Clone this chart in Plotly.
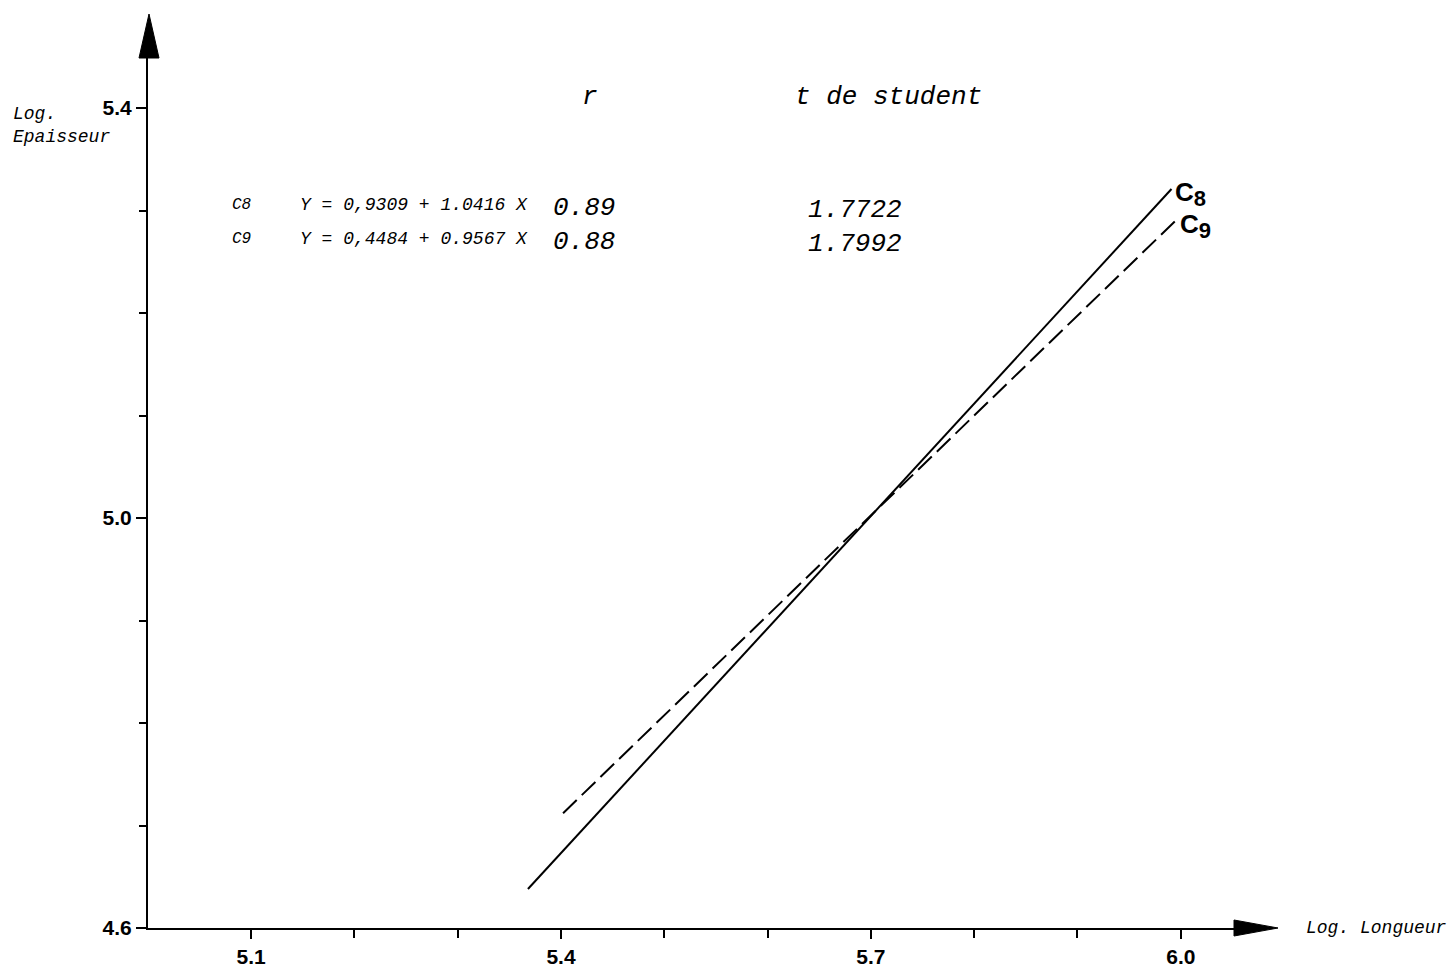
import plotly.graph_objects as go

# ---- data ----
c8_x = [5.368, 5.991]
c8_y = [4.638, 5.321]
c9_x = [5.402, 5.997]
c9_y = [4.712, 5.292]

x_ticks = [5.1, 5.4, 5.7, 6.0]
x_labels = ["5.1", "5.4", "5.7", "6.0"]
y_ticks = [4.6, 5.0, 5.4]
y_labels = ["4.6", "5.0", "5.4"]
minor_step = 0.1

equations = ["Y = 0,9309 + 1.0416 X", "Y = 0,4484 + 0.9567 X"]
series_names = ["C8", "C9"]
r_values = ["0.89", "0.88"]
t_values = ["1.7722", "1.7992"]

# ---- layout geometry (pixels) ----
W, H = 1454, 970
L, R, T, B = 148, 1235, 57, 928
PW, PH = R - L, B - T

def px(p):
    return (p - L) / PW

def py(p):
    return (B - p) / PH

fig = go.Figure()
fig.add_trace(go.Scatter(x=c8_x, y=c8_y, mode="lines",
                         line=dict(color="black", width=2), showlegend=False))
fig.add_trace(go.Scatter(x=c9_x, y=c9_y, mode="lines",
                         line=dict(color="black", width=2, dash="19px,7px"),
                         showlegend=False))

mono = "Liberation Mono, Courier New, monospace"
sans = "Liberation Sans, Arial, sans-serif"
ann = []

def txt(x, y, text, size, family=mono, xanchor="left", yanchor="middle", align="left"):
    ann.append(dict(x=px(x), y=py(y), xref="paper", yref="paper", text=text,
                    showarrow=False, xanchor=xanchor, yanchor=yanchor, align=align,
                    font=dict(family=family, size=size, color="black")))

txt(11, 125, "<i>Log.<br>Epaisseur</i>", 18)
txt(1304, 928, "<i>Log. Longueur</i>", 18)
txt(590, 97, "<i>r</i>", 26, xanchor="center")
txt(793, 97, "<i>t de student</i>", 26)

rows_y = [208, 242]
for i in range(2):
    yy = rows_y[i]
    txt(230, yy - 3, "<i>" + series_names[i] + "</i>", 16)
    txt(298, yy - 3, "<i>" + equations[i] + "</i>", 18)
    txt(551, yy, "<i>" + r_values[i] + "</i>", 26)
    txt(806, yy + 2, "<i>" + t_values[i] + "</i>", 26)

txt(1173, 194, "<b>C<sub><span style='font-size:22px'>8</span></sub></b>", 26, family=sans)
txt(1178, 226, "<b>C<sub><span style='font-size:22px'>9</span></sub></b>", 26, family=sans)

fig.update_layout(annotations=ann)

# axis arrows
shapes = [
    dict(type="path", xref="paper", yref="paper",
         path=f"M {px(149)} {py(14)} L {px(139)} {py(58)} L {px(159)} {py(58)} Z",
         fillcolor="black", line=dict(color="black", width=1)),
    dict(type="path", xref="paper", yref="paper",
         path=f"M {px(1278)} {py(928)} L {px(1234)} {py(920)} L {px(1234)} {py(936)} Z",
         fillcolor="black", line=dict(color="black", width=1)),
]

fig.update_layout(
    width=W, height=H,
    margin=dict(l=L, r=W - R, t=T, b=H - B, autoexpand=False),
    paper_bgcolor="white", plot_bgcolor="white",
    shapes=shapes,
    xaxis=dict(range=[5.0002, 5.0002 + PW / 1033.0], showgrid=False, zeroline=False,
               showline=True, linecolor="black", linewidth=2,
               tickmode="array", tickvals=x_ticks,
               ticktext=["<b>" + t + "</b>" for t in x_labels],
               ticks="outside", ticklen=9, tickwidth=2, tickcolor="black",
               tickfont=dict(family=sans, size=21, color="black"),
               minor=dict(tick0=5.0, dtick=minor_step, ticks="outside", ticklen=8,
                          tickwidth=2, tickcolor="black", showgrid=False),
               fixedrange=True),
    yaxis=dict(range=[4.6, 4.6 + PH / 1025.0], showgrid=False, zeroline=False,
               showline=True, linecolor="black", linewidth=2,
               tickmode="array", tickvals=y_ticks,
               ticktext=["<b>" + t + "</b>" for t in y_labels],
               ticks="outside", ticklen=10, tickwidth=2, tickcolor="black",
               tickfont=dict(family=sans, size=21, color="black"),
               minor=dict(tick0=4.6, dtick=minor_step, ticks="outside", ticklen=7,
                          tickwidth=2, tickcolor="black", showgrid=False),
               fixedrange=True),
)

fig.write_html("out.html")
